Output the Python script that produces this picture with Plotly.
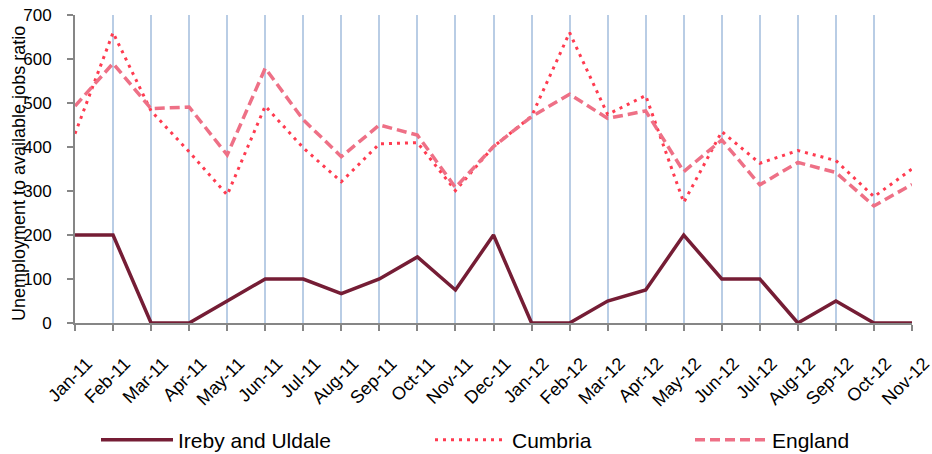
import plotly.graph_objects as go

# Monthly unemployment-to-available-jobs ratio
months = ["Jan-11", "Feb-11", "Mar-11", "Apr-11", "May-11", "Jun-11", "Jul-11",
          "Aug-11", "Sep-11", "Oct-11", "Nov-11", "Dec-11", "Jan-12", "Feb-12",
          "Mar-12", "Apr-12", "May-12", "Jun-12", "Jul-12", "Aug-12", "Sep-12",
          "Oct-12", "Nov-12"]

ireby_uldale = [200, 200, 0, 0, 50, 100, 100, 67, 100, 150, 75, 200, 0, 0,
                50, 75, 200, 100, 100, 0, 50, 0, 0]
cumbria = [430, 660, 482, 389, 291, 493, 398, 321, 407, 410, 301, 401, 470, 660,
           474, 517, 274, 435, 363, 392, 369, 287, 350]
england = [493, 590, 487, 491, 382, 579, 462, 378, 450, 427, 308, 401, 469, 520,
           465, 482, 344, 416, 314, 365, 342, 266, 315]

y_ticks = [0, 100, 200, 300, 400, 500, 600, 700]

FONT = "Liberation Sans, Arial, sans-serif"
W, H = 932, 454
x_idx = list(range(len(months)))

fig = go.Figure()
fig.add_trace(go.Scatter(
    x=x_idx, y=ireby_uldale, name="Ireby and Uldale", mode="lines",
    line=dict(color="#751D35", width=3.5), legend="legend"))
fig.add_trace(go.Scatter(
    x=x_idx, y=cumbria, name="Cumbria", mode="lines",
    line=dict(color="#FF3B50", width=3, dash="3px,5px"), legend="legend2"))
fig.add_trace(go.Scatter(
    x=x_idx, y=england, name="England", mode="lines",
    line=dict(color="#EE7086", width=3.5, dash="10px,5px"), legend="legend3"))

# one legend per series, laid out along the bottom of the figure
legend_common = dict(orientation="h", xref="container", yref="container",
                     yanchor="middle", y=1 - 440 / H, xanchor="left",
                     font=dict(family=FONT, size=21, color="#000000"),
                     itemwidth=72, bgcolor="rgba(0,0,0,0)")

fig.update_layout(
    width=W, height=H,
    margin=dict(l=75, r=20, t=15, b=131),
    paper_bgcolor="white", plot_bgcolor="white",
    font=dict(family=FONT, size=17, color="#000000"),
    showlegend=True,
    legend=dict(legend_common, x=96 / W),
    legend2=dict(legend_common, x=430 / W),
    legend3=dict(legend_common, x=690 / W),
    xaxis=dict(
        range=[0, len(months) - 1], tickmode="array", tickvals=x_idx,
        ticktext=months, tickangle=-45, automargin=False,
        ticklabelstandoff=15, ticklabelshift=12, ticklabeloverflow="allow",
        showgrid=True, gridcolor="#B9CDE5", gridwidth=2,
        showline=True, linecolor="#868686", linewidth=2,
        ticks="outside", ticklen=6, tickcolor="#868686", tickwidth=2,
        tickfont=dict(family=FONT, size=18), zeroline=False),
    yaxis=dict(
        range=[0, 700], tickmode="array", tickvals=y_ticks, automargin=False,
        ticklabelstandoff=12, ticklabeloverflow="allow",
        showgrid=False, zeroline=False,
        showline=True, linecolor="#868686", linewidth=2,
        ticks="outside", ticklen=6, tickcolor="#868686", tickwidth=2,
        tickfont=dict(family=FONT, size=17)),
    annotations=[dict(
        text="Unemployment to available jobs ratio", textangle=-90,
        xref="paper", yref="paper", x=0, y=0.5, xshift=-56, yshift=-5,
        xanchor="center", yanchor="middle", showarrow=False,
        font=dict(family=FONT, size=18, color="#000000"))],
)

fig.write_html("out.html")
